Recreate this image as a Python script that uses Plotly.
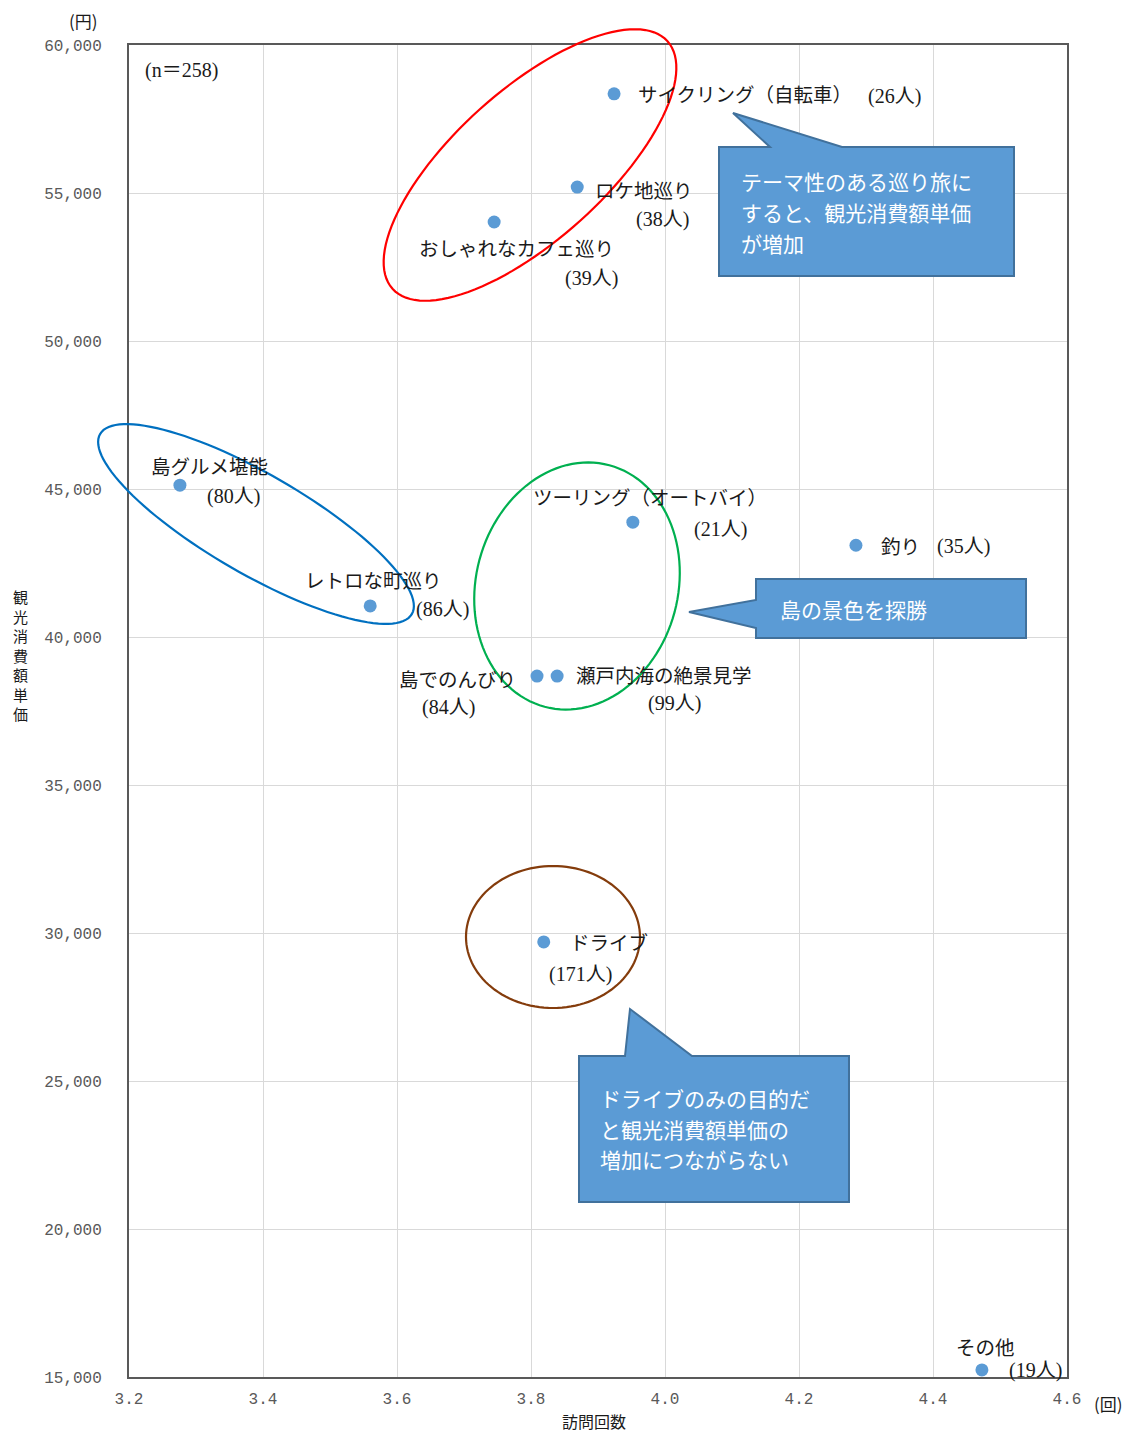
import numpy as np
import plotly.graph_objects as go

# ---------------- data ----------------
names = ["サイクリング（自転車）", "ロケ地巡り", "おしゃれなカフェ巡り", "島グルメ堪能",
         "レトロな町巡り", "ツーリング（オートバイ）", "釣り", "島でのんびり",
         "瀬戸内海の絶景見学", "ドライブ", "その他"]
counts = [26, 38, 39, 80, 86, 21, 35, 84, 99, 171, 19]
visits = [3.924, 3.869, 3.745, 3.276, 3.560, 3.952, 4.285, 3.809, 3.839, 3.819, 4.473]
spend = [58350, 55200, 54020, 45130, 41050, 43880, 43100, 38680, 38680, 29700, 15240]
x_ticks = [3.2, 3.4, 3.6, 3.8, 4.0, 4.2, 4.4, 4.6]
y_ticks = [15000, 20000, 25000, 30000, 35000, 40000, 45000, 50000, 55000, 60000]
sample_note = "(n＝258)"
callout_texts = [
    ["テーマ性のある巡り旅に", "すると、観光消費額単価", "が増加"],
    ["島の景色を探勝"],
    ["ドライブのみの目的だ", "と観光消費額単価の", "増加につながらない"],
]

# ---------------- layout geometry (pixels) ----------------
W, H = 1131, 1434
L, R, T, B = 129, 1067, 45, 1377


def px(xp):
    return (xp - L) / (R - L)


def py(yp):
    return (B - yp) / (B - T)


# label offsets (pixels) relative to each point: (name dx, name dy, count dx, count dy)
offsets = [
    (22, 0, 252, -3),
    (16, -2, 57, -32),
    (-77, -25, 69, -56),
    (-31, 20, 25, -11),
    (-67, 26, 44, -4),
    (-102, 26, 59, -7),
    (23, 0, 79, -1),
    (-140, -2, -117, -31),
    (17, 2, 89, -27),
    (24, 0, 3, -33),
    (-28, 23, 25, -1),
]

NAME_FONT = dict(family="Noto Sans CJK JP", size=19.5, color="#1a1a1a")
LABEL_FONT = dict(family="Liberation Serif, Noto Sans CJK JP", size=20, color="#1a1a1a")
CJK_FONT = dict(family="Noto Sans CJK JP", size=17, color="#1a1a1a")

fig = go.Figure()
fig.add_trace(go.Scatter(
    x=visits, y=spend, mode="markers",
    marker=dict(size=13, color="#5B9BD5"),
    hoverinfo="skip", showlegend=False,
))

annotations = []
for n, c, xv, yv, (ndx, ndy, cdx, cdy) in zip(names, counts, visits, spend, offsets):
    annotations.append(dict(x=xv, y=yv, xref="x", yref="y", text=n, showarrow=False,
                            xanchor="left", yanchor="middle", xshift=ndx, yshift=ndy,
                            font=NAME_FONT))
    annotations.append(dict(x=xv, y=yv, xref="x", yref="y", text=f"({c}人)", showarrow=False,
                            xanchor="left", yanchor="middle", xshift=cdx, yshift=cdy,
                            font=LABEL_FONT))

# sample note
annotations.append(dict(x=px(143), y=py(71), xref="paper", yref="paper", text=sample_note,
                        showarrow=False, xanchor="left", yanchor="middle", font=LABEL_FONT))
# axis units / titles
annotations.append(dict(x=px(83), y=py(20), xref="paper", yref="paper", text="(円)",
                        showarrow=False, xanchor="center", yanchor="middle", font=CJK_FONT))
annotations.append(dict(x=px(1108), y=py(1403), xref="paper", yref="paper", text="(回)",
                        showarrow=False, xanchor="center", yanchor="middle", font=CJK_FONT))
annotations.append(dict(x=px(594), y=py(1421), xref="paper", yref="paper", text="訪問回数",
                        showarrow=False, xanchor="center", yanchor="middle",
                        font=dict(family="Noto Sans CJK JP", size=16, color="#1a1a1a")))
annotations.append(dict(x=px(20), y=py(655), xref="paper", yref="paper",
                        text="<br>".join("観光消費額単価"),
                        showarrow=False, xanchor="center", yanchor="middle",
                        font=dict(family="Noto Sans CJK JP", size=15, color="#1a1a1a")))

# callout text
CALL_FONT = dict(family="Noto Sans CJK JP", size=21, color="white")
callout_text_pos = [(739, [181, 212, 243]), (778, [609]), (598, [1098, 1129, 1159])]
for lines, (lx, ys) in zip(callout_texts, callout_text_pos):
    for t, yy in zip(lines, ys):
        annotations.append(dict(x=px(lx), y=py(yy), xref="paper", yref="paper", text=t,
                                showarrow=False, xanchor="left", yanchor="middle", font=CALL_FONT))

# ---------------- shapes ----------------
shapes = []


def ellipse_path(cx, cy, a, b, ang_deg):
    t = np.linspace(0, 2 * np.pi, 121)
    th = np.deg2rad(ang_deg)
    xs = cx + a * np.cos(t) * np.cos(th) - b * np.sin(t) * np.sin(th)
    ys = cy + a * np.cos(t) * np.sin(th) + b * np.sin(t) * np.cos(th)
    pts = [f"{px(x_):.5f},{py(y_):.5f}" for x_, y_ in zip(xs, ys)]
    return "M " + " L ".join(pts) + " Z"


ellipses = [
    ((530, 165, 185, 75, -42), "#FF0000"),
    ((256, 524, 180, 50, 30), "#0070C0"),
    ((577, 586, 125, 101, -75), "#00B050"),
    ((553, 937, 87, 71, 0), "#843C0C"),
]
for (cx, cy, a, b, ang), col in ellipses:
    shapes.append(dict(type="path", xref="paper", yref="paper", path=ellipse_path(cx, cy, a, b, ang),
                       line=dict(color=col, width=2.2), fillcolor="rgba(0,0,0,0)", layer="above"))


def poly_path(pts):
    return "M " + " L ".join(f"{px(a):.5f},{py(b):.5f}" for a, b in pts) + " Z"


callouts = [
    [(719, 147), (770, 147), (733, 113), (842, 147), (1014, 147), (1014, 276), (719, 276)],
    [(756, 579), (1026, 579), (1026, 638), (756, 638), (756, 628), (689, 612), (756, 600)],
    [(579, 1056), (625, 1056), (630, 1009), (692, 1056), (849, 1056), (849, 1202), (579, 1202)],
]
for pts in callouts:
    shapes.append(dict(type="path", xref="paper", yref="paper", path=poly_path(pts),
                       line=dict(color="#41719C", width=2), fillcolor="#5B9BD5", layer="above"))

TICK_FONT = dict(family="Liberation Mono, DejaVu Sans Mono", size=16, color="#595959")
fig.update_layout(
    width=W, height=H,
    margin=dict(l=L, r=W - R, t=T, b=H - B),
    paper_bgcolor="white", plot_bgcolor="white",
    showlegend=False,
    annotations=annotations,
    shapes=shapes,
    xaxis=dict(range=[3.2, 4.6], tickvals=x_ticks, ticktext=[f"{v:.1f}" for v in x_ticks],
               showgrid=True, gridcolor="#D9D9D9", gridwidth=1, zeroline=False,
               showline=True, mirror=True, linecolor="#595959", linewidth=2,
               ticks="", tickfont=TICK_FONT, ticklabelstandoff=6),
    yaxis=dict(range=[15000, 60000], tickvals=y_ticks, ticktext=[f"{v:,}" for v in y_ticks],
               showgrid=True, gridcolor="#D9D9D9", gridwidth=1, zeroline=False,
               showline=True, mirror=True, linecolor="#595959", linewidth=2,
               ticks="", tickfont=TICK_FONT, ticklabelstandoff=22),
)

fig.write_html("out.html", config={"displayModeBar": False},
               post_script="document.body.style.margin='0px';document.body.style.overflow='hidden';")
